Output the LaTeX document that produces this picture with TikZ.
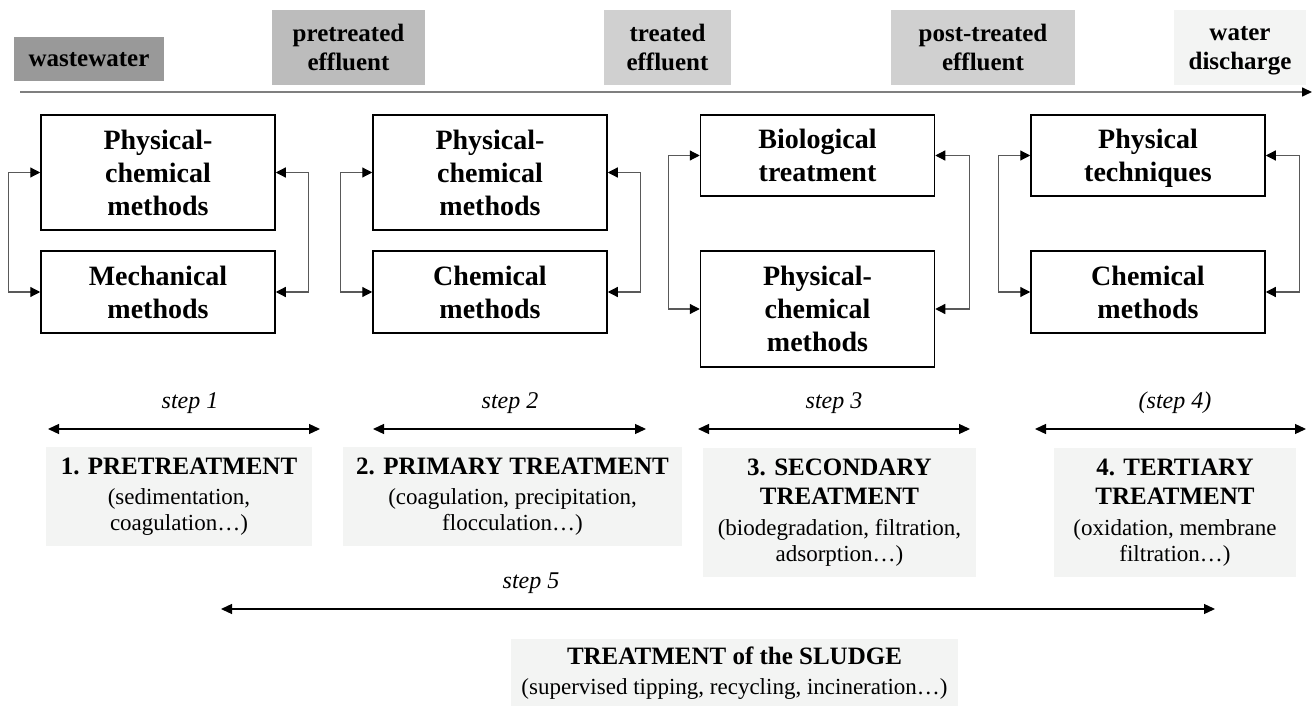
\documentclass[tikz,border=0pt]{standalone}
\usepackage{fontspec}
\setmainfont{Liberation Serif}
\usepackage{tikz}
\usetikzlibrary{arrows.meta}
\definecolor{grayA}{HTML}{999999}
\definecolor{grayB}{HTML}{BCBCBC}
\definecolor{grayC}{HTML}{D0D0D0}
\definecolor{grayD}{HTML}{F3F4F3}
\definecolor{flowgray}{HTML}{7F7F7F}
\newcommand{\phasehead}[1]{{\bfseries\fontsize{12.5}{15}\selectfont #1}}
\tikzset{
  stagebox/.style={align=center, inner sep=0pt, text depth=0pt, font=\bfseries\fontsize{12.5}{14.5}\selectfont},
  methbox/.style={draw, line width=0.75pt, align=center, inner sep=0pt, text depth=0pt, minimum width=117pt, font=\bfseries\fontsize{14}{16.5}\selectfont},
  linkarrow/.style={draw=black!65, line width=0.6pt, {Triangle[length=5pt,width=5pt,black]}-{Triangle[length=5pt,width=5pt,black]}},
  steparrow/.style={line width=0.65pt, {Triangle[length=5.5pt,width=5pt]}-{Triangle[length=5.5pt,width=5pt]}},
  phasebox/.style={fill=grayD, align=center, inner sep=0pt, font=\fontsize{11.5}{13}\selectfont},
  steplabel/.style={font=\itshape\fontsize{12}{14}\selectfont}
}
\begin{document}
\begin{tikzpicture}[x=0.5pt,y=-0.5pt]
	\useasboundingbox (0,0) rectangle (1314,706);
	%\draw [help lines, step=50] (0,0) grid (1314,706);
	%flusso
	\node [stagebox, fill=grayA, minimum width=75pt, minimum height=22pt] (ww) at (89,59) {wastewater};
	\node [stagebox, fill=grayB, minimum width=76.5pt, minimum height=37.5pt] (pre) at (348.5,47.5) {pretreated\\effluent};
	\node [stagebox, fill=grayC, minimum width=63.5pt, minimum height=37.5pt] (tre) at (667.5,47.5) {treated\\effluent};
	\node [stagebox, fill=grayC, minimum width=92pt, minimum height=37.5pt] (post) at (983,47.5) {post-treated\\effluent};
	\node [stagebox, fill=grayD, minimum width=66pt, minimum height=37.5pt] (dis) at (1240,47.5) {water\\discharge};
	\coordinate (flowA) at (20,92);
	\coordinate (flowB) at (1312,92);
	\draw [flowgray, line width=0.8pt, -{Triangle[length=5pt,width=4.5pt,black]}] (flowA) -- (flowB);
	%metodi
	\node [methbox, minimum height=57.5pt] (pc1) at (158,172.5) {Physical-\\chemical\\methods};
	\node [methbox, minimum height=41pt] (mec1) at (158,292) {Mechanical\\methods};
	\draw [linkarrow] (pc1.west) -- ++(-32,0) |- (mec1.west);
	\draw [linkarrow] (pc1.east) -- ++(33,0) |- (mec1.east);
	\node [methbox, minimum height=57.5pt] (pc2) at (490,172.5) {Physical-\\chemical\\methods};
	\node [methbox, minimum height=41pt] (chem2) at (490,292) {Chemical\\methods};
	\draw [linkarrow] (pc2.west) -- ++(-32,0) |- (chem2.west);
	\draw [linkarrow] (pc2.east) -- ++(33,0) |- (chem2.east);
	\node [methbox, minimum height=40.5pt] (bio3) at (817.5,155.5) {Biological\\treatment};
	\node [methbox, minimum height=58pt] (pc3) at (817.5,309) {Physical-\\chemical\\methods};
	\draw [linkarrow] (bio3.west) -- ++(-31,0) |- (pc3.west);
	\draw [linkarrow] (bio3.east) -- ++(34,0) |- (pc3.east);
	\node [methbox, minimum height=40.5pt] (phy4) at (1148,155.5) {Physical\\techniques};
	\node [methbox, minimum height=41pt] (chem4) at (1148,292) {Chemical\\methods};
	\draw [linkarrow] (phy4.west) -- ++(-32,0) |- (chem4.west);
	\draw [linkarrow] (phy4.east) -- ++(34,0) |- (chem4.east);
	%fasi
	\node [steplabel] (st1) at (190,403) {step 1};
	\node [steplabel] (st2) at (510,403) {step 2};
	\node [steplabel] (st3) at (834,403) {step 3};
	\node [steplabel] (st4) at (1175,403) {(step 4)};
	\coordinate (s1a) at (48,429);   \coordinate (s1b) at (320,429);
	\coordinate (s2a) at (373,429);  \coordinate (s2b) at (646,429);
	\coordinate (s3a) at (698,429);  \coordinate (s3b) at (970,429);
	\coordinate (s4a) at (1035,429); \coordinate (s4b) at (1306,429);
	\draw [steparrow] (s1a) -- (s1b);
	\draw [steparrow] (s2a) -- (s2b);
	\draw [steparrow] (s3a) -- (s3b);
	\draw [steparrow] (s4a) -- (s4b);
	\node [phasebox, minimum width=133pt, minimum height=49.5pt] (ph1) at (179,496.5) {\phasehead{1. PRETREATMENT}\\[2pt](sedimentation,\\coagulation…)};
	\node [phasebox, minimum width=169.5pt, minimum height=49.5pt] (ph2) at (512.5,496.5) {\phasehead{2. PRIMARY TREATMENT}\\[2pt](coagulation, precipitation,\\flocculation…)};
	\node [phasebox, minimum width=136.5pt, minimum height=64.5pt] (ph3) at (839.5,512.5) {\phasehead{3. SECONDARY}\\[1.5pt]\phasehead{TREATMENT}\\[2.5pt](biodegradation, filtration,\\adsorption…)};
	\node [phasebox, minimum width=121pt, minimum height=64.5pt] (ph4) at (1175,512.5) {\phasehead{4. TERTIARY}\\[1.5pt]\phasehead{TREATMENT}\\[2.5pt](oxidation, membrane\\filtration…)};
	%fanghi
	\node [steplabel] (st5) at (531,583) {step 5};
	\coordinate (s5a) at (221,609); \coordinate (s5b) at (1215,609);
	\draw [steparrow] (s5a) -- (s5b);
	\node [phasebox, minimum width=223.5pt, minimum height=34pt] (sludge) at (734.5,673) {\phasehead{TREATMENT of the SLUDGE}\\[2pt](supervised tipping, recycling, incineration…)};
\end{tikzpicture}
\end{document}
